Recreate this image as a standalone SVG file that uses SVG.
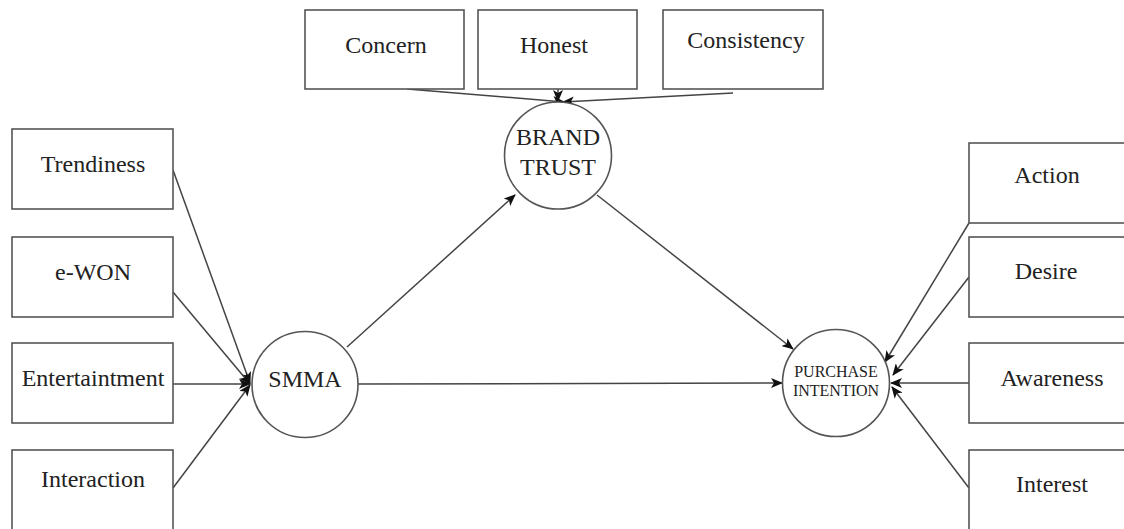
<svg xmlns="http://www.w3.org/2000/svg" width="1124" height="529" viewBox="0 0 1124 529">
<defs>
<style>
.box{fill:#fff;stroke:#555;stroke-width:1.6}
.circ{fill:#fff;stroke:#555;stroke-width:1.6}
.t{font-family:"Liberation Serif","Times New Roman",serif;font-size:24px;fill:#222;text-anchor:middle}
.ts{font-family:"Liberation Serif","Times New Roman",serif;font-size:16px;fill:#222;text-anchor:middle}
.c{stroke:#444;stroke-width:1.5;fill:none;marker-end:url(#ah)}
</style>
<marker id="ah" markerWidth="12" markerHeight="10" refX="11" refY="5" orient="auto" markerUnits="userSpaceOnUse">
<path d="M0,0 L12,5 L0,10 L3,5 Z" fill="#111"/>
</marker>
</defs>
<rect width="1124" height="529" fill="#fff"/>
<g id="connectors">
<line class="c" x1="173" y1="170" x2="250" y2="383"/>
<line class="c" x1="173" y1="292" x2="250" y2="384"/>
<line class="c" x1="173" y1="384" x2="250" y2="384"/>
<line class="c" x1="173" y1="488" x2="250" y2="385"/>
<line class="c" x1="347" y1="347" x2="515" y2="195"/>
<line class="c" x1="358" y1="384" x2="782" y2="383"/>
<line class="c" x1="597" y1="195" x2="793" y2="349"/>
<line class="c" x1="407" y1="89" x2="564" y2="102"/>
<line class="c" x1="558" y1="89" x2="558" y2="101"/>
<line class="c" x1="733" y1="93" x2="563" y2="102"/>
<line class="c" x1="969" y1="223" x2="885" y2="362"/>
<line class="c" x1="969" y1="277" x2="893" y2="375"/>
<line class="c" x1="969" y1="383" x2="891" y2="383"/>
<line class="c" x1="969" y1="488" x2="892" y2="387"/>
</g>
<g id="concern"><rect class="box" x="305" y="10" width="159" height="79"/><text class="t" x="386" y="53">Concern</text></g>
<g id="honest"><rect class="box" x="478" y="10" width="159" height="79"/><text class="t" x="554" y="53">Honest</text></g>
<g id="consistency"><rect class="box" x="663" y="10" width="160" height="79"/><text class="t" x="746" y="48">Consistency</text></g>
<g id="brand-trust"><circle class="circ" cx="558" cy="155.5" r="53.5"/><text class="t" x="558" y="145">BRAND</text><text class="t" x="558" y="175">TRUST</text></g>
<g id="trendiness"><rect class="box" x="12" y="129" width="161" height="80"/><text class="t" x="93" y="172">Trendiness</text></g>
<g id="ewon"><rect class="box" x="12" y="237" width="161" height="80"/><text class="t" x="93" y="280">e-WON</text></g>
<g id="entertaintment"><rect class="box" x="12" y="343" width="161" height="80"/><text class="t" x="93" y="386">Entertaintment</text></g>
<g id="interaction"><rect class="box" x="12" y="450" width="161" height="100"/><text class="t" x="93" y="487">Interaction</text></g>
<g id="smma"><circle class="circ" cx="305" cy="384.5" r="53"/><text class="t" x="305" y="387">SMMA</text></g>
<g id="purchase-intention"><circle class="circ" cx="836" cy="383" r="53.5"/><text class="ts" x="836" y="377">PURCHASE</text><text class="ts" x="836" y="396">INTENTION</text></g>
<g id="action"><rect class="box" x="969" y="143" width="170" height="80"/><text class="t" x="1047" y="183">Action</text></g>
<g id="desire"><rect class="box" x="969" y="237" width="170" height="80"/><text class="t" x="1046" y="279">Desire</text></g>
<g id="awareness"><rect class="box" x="969" y="343" width="170" height="80"/><text class="t" x="1052" y="386">Awareness</text></g>
<g id="interest"><rect class="box" x="969" y="450" width="170" height="100"/><text class="t" x="1052" y="492">Interest</text></g>
</svg>
